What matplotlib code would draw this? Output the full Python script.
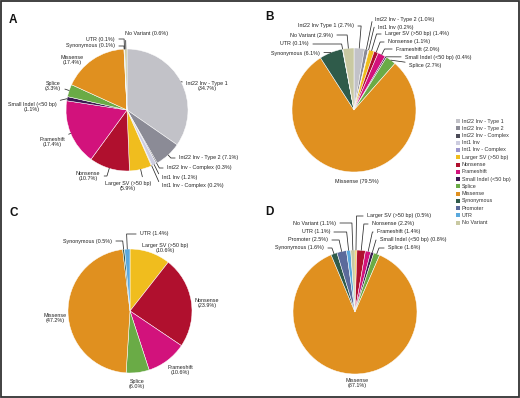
import numpy as np
import matplotlib
matplotlib.use('Agg')
import matplotlib.pyplot as plt
from matplotlib.patches import Rectangle

plt.rcParams['font.family'] = ['Liberation Sans', 'DejaVu Sans']

W, H = 520, 398

legend_categories = ['Int22 Inv - Type 1', 'Int22 Inv - Type 2', 'Int22 Inv - Complex',
                     'Int1 Inv', 'Int1 Inv - Complex', 'Larger SV (>50 bp)', 'Nonsense',
                     'Frameshift', 'Small Indel (<50 bp)', 'Splice', 'Missense',
                     'Synonymous', 'Promoter', 'UTR', 'No Variant']
category_colors = ['#c2c2c8', '#8b8b96', '#4b4b57', '#cdcde0', '#9c96cc', '#f0bd1e',
                   '#b0102e', '#d2127c', '#3b1a52', '#6aab46', '#e0901f',
                   '#2f5b4a', '#5b6a9b', '#5aa9dd', '#c9c9a2']
color_of = dict(zip(legend_categories, category_colors))

# Panel A
a_cats = ['Int22 Inv - Type 1', 'Int22 Inv - Type 2', 'Int22 Inv - Complex', 'Int1 Inv',
          'Int1 Inv - Complex', 'Larger SV (>50 bp)', 'Nonsense', 'Frameshift',
          'Small Indel (<50 bp)', 'Splice', 'Missense', 'Synonymous', 'UTR', 'No Variant']
a_vals = [34.7, 7.1, 0.3, 1.2, 0.2, 5.9, 10.7, 17.4, 1.1, 3.3, 17.4, 0.1, 0.1, 0.6]

# Panel B
b_cats = ['Int22 Inv - Type 1', 'Int22 Inv - Type 2', 'Int1 Inv', 'Larger SV (>50 bp)',
          'Nonsense', 'Frameshift', 'Small Indel (<50 bp)', 'Splice', 'Missense',
          'Synonymous', 'UTR', 'No Variant']
b_vals = [2.7, 1.0, 0.2, 1.4, 1.1, 2.0, 0.4, 2.7, 79.5, 6.1, 0.1, 2.9]

# Panel C
c_cats = ['Larger SV (>50 bp)', 'Nonsense', 'Frameshift', 'Splice', 'Missense',
          'Synonymous', 'UTR']
c_vals = [10.6, 23.9, 10.6, 6.0, 47.2, 0.5, 1.4]

# Panel D
d_cats = ['Larger SV (>50 bp)', 'Nonsense', 'Frameshift', 'Small Indel (<50 bp)', 'Splice',
          'Missense', 'Synonymous', 'Promoter', 'UTR', 'No Variant']
d_vals = [0.5, 2.2, 1.4, 0.8, 1.6, 87.1, 1.6, 2.5, 1.1, 1.1]

# label layout (pixel coords, y down): x, y, ha, two_lines, leader_line
a_layout = {
    'Int22 Inv - Type 1': (207, 86, 'center', True, True),
    'Int22 Inv - Type 2': (179, 158, 'left', False, True),
    'Int22 Inv - Complex': (167, 168, 'left', False, True),
    'Int1 Inv': (162, 178, 'left', False, True),
    'Int1 Inv - Complex': (162, 186, 'left', False, True),
    'Larger SV (>50 bp)': (128, 186, 'center', True, True),
    'Nonsense': (88, 176, 'center', True, True),
    'Frameshift': (52, 142, 'center', True, True),
    'Small Indel (<50 bp)': (32, 107, 'center', True, True),
    'Splice': (53, 86, 'center', True, True),
    'Missense': (72, 60, 'center', True, False),
    'Synonymous': (115, 46, 'right', False, True),
    'UTR': (115, 39, 'right', False, True),
    'No Variant': (125, 34, 'left', False, True),
}
b_layout = {
    'Int22 Inv - Type 1': (354, 26, 'right', False, True),
    'Int22 Inv - Type 2': (375, 19, 'left', False, True),
    'Int1 Inv': (378, 27, 'left', False, True),
    'Larger SV (>50 bp)': (385, 34, 'left', False, True),
    'Nonsense': (388, 42, 'left', False, True),
    'Frameshift': (396, 49, 'left', False, True),
    'Small Indel (<50 bp)': (405, 57, 'left', False, True),
    'Splice': (409, 65, 'left', False, True),
    'Missense': (357, 182, 'center', False, False),
    'Synonymous': (320, 53, 'right', False, True),
    'UTR': (309, 44, 'right', False, True),
    'No Variant': (333, 35, 'right', False, True),
}
c_layout = {
    'Larger SV (>50 bp)': (165, 248, 'center', True, False),
    'Nonsense': (207, 303, 'center', True, False),
    'Frameshift': (180, 370, 'center', True, False),
    'Splice': (137, 384, 'center', True, False),
    'Missense': (55, 318, 'center', True, False),
    'Synonymous': (112, 241, 'right', False, True),
    'UTR': (140, 234, 'left', False, True),
}
d_layout = {
    'Larger SV (>50 bp)': (367, 216, 'left', False, True),
    'Nonsense': (372, 224, 'left', False, True),
    'Frameshift': (377, 232, 'left', False, True),
    'Small Indel (<50 bp)': (380, 240, 'left', False, True),
    'Splice': (388, 248, 'left', False, True),
    'Missense': (357, 383, 'center', True, False),
    'Synonymous': (324, 248, 'right', False, True),
    'Promoter': (328, 240, 'right', False, True),
    'UTR': (330, 232, 'right', False, True),
    'No Variant': (336, 223, 'right', False, True),
}
b_text_override = {'Int22 Inv - Type 1': 'Int22 Inv Type 1'}

panels = [
    ('A', a_cats, a_vals, a_layout, (127, 110), 61, (9, 20), {}),
    ('B', b_cats, b_vals, b_layout, (354, 110), 62, (265, 17), b_text_override),
    ('C', c_cats, c_vals, c_layout, (130, 311), 62, (9, 213), {}),
    ('D', d_cats, d_vals, d_layout, (355, 312), 62, (265, 212), {}),
]

fig = plt.figure(figsize=(W / 100, H / 100), dpi=100)
ax = fig.add_axes([0, 0, 1, 1])

FS = 3.9
LC = '#2a2a2a'

for letter, cats, vals, layout, (cx, cy), r, (lx, ly), override in panels:
    wedges, _ = ax.pie(vals, colors=[color_of[c] for c in cats], startangle=90,
                       counterclock=False, center=(cx, H - cy), radius=r,
                       wedgeprops=dict(edgecolor='white', linewidth=0.35))
    for w, cat, v in zip(wedges, cats, vals):
        tx, ty, ha, two, line = layout[cat]
        name = override.get(cat, cat)
        txt = f'{name}\n({v:.1f}%)' if two else f'{name} ({v:.1f}%)'
        ty_d = H - ty
        mid = np.deg2rad((w.theta1 + w.theta2) / 2)
        ex = cx + r * np.cos(mid)
        ey = (H - cy) + r * np.sin(mid)
        if line:
            s = np.sin(mid)
            t = (ty_d - ey) / s if abs(s) > 0.2 else -1
            if t > 2:
                cs = f'angle,angleA=0,angleB={np.rad2deg(mid):.2f},rad=0'
            else:
                cs = 'arc3,rad=0'
            ax.annotate(txt, xy=(ex, ey), xytext=(tx, ty_d), ha=ha, va='center',
                        multialignment='center', fontsize=FS, color='#222222',
                        arrowprops=dict(arrowstyle='-', lw=0.55, color=LC,
                                        shrinkA=0.8, shrinkB=0, connectionstyle=cs))
        else:
            ax.text(tx, ty_d, txt, ha=ha, va='center', multialignment='center',
                    fontsize=FS, color='#222222')
    ax.text(lx, H - ly, letter, fontsize=8.5, fontweight='bold', ha='left',
            va='center', color='#111111')

# legend
for i, (cat, col) in enumerate(zip(legend_categories, category_colors)):
    y = H - (121 + i * 7.25)
    ax.add_patch(Rectangle((456, y - 2), 4, 4, facecolor=col, edgecolor='none'))
    ax.text(462, y, cat, fontsize=FS, va='center', ha='left', color='#333333')

ax.add_patch(Rectangle((1.2, 1.2), W - 2.4, H - 2.4, fill=False, edgecolor='#333333',
                       linewidth=1.3))
ax.set_xlim(0, W)
ax.set_ylim(0, H)
ax.set_aspect('auto')
ax.axis('off')
fig.savefig('out.png', dpi=100)
